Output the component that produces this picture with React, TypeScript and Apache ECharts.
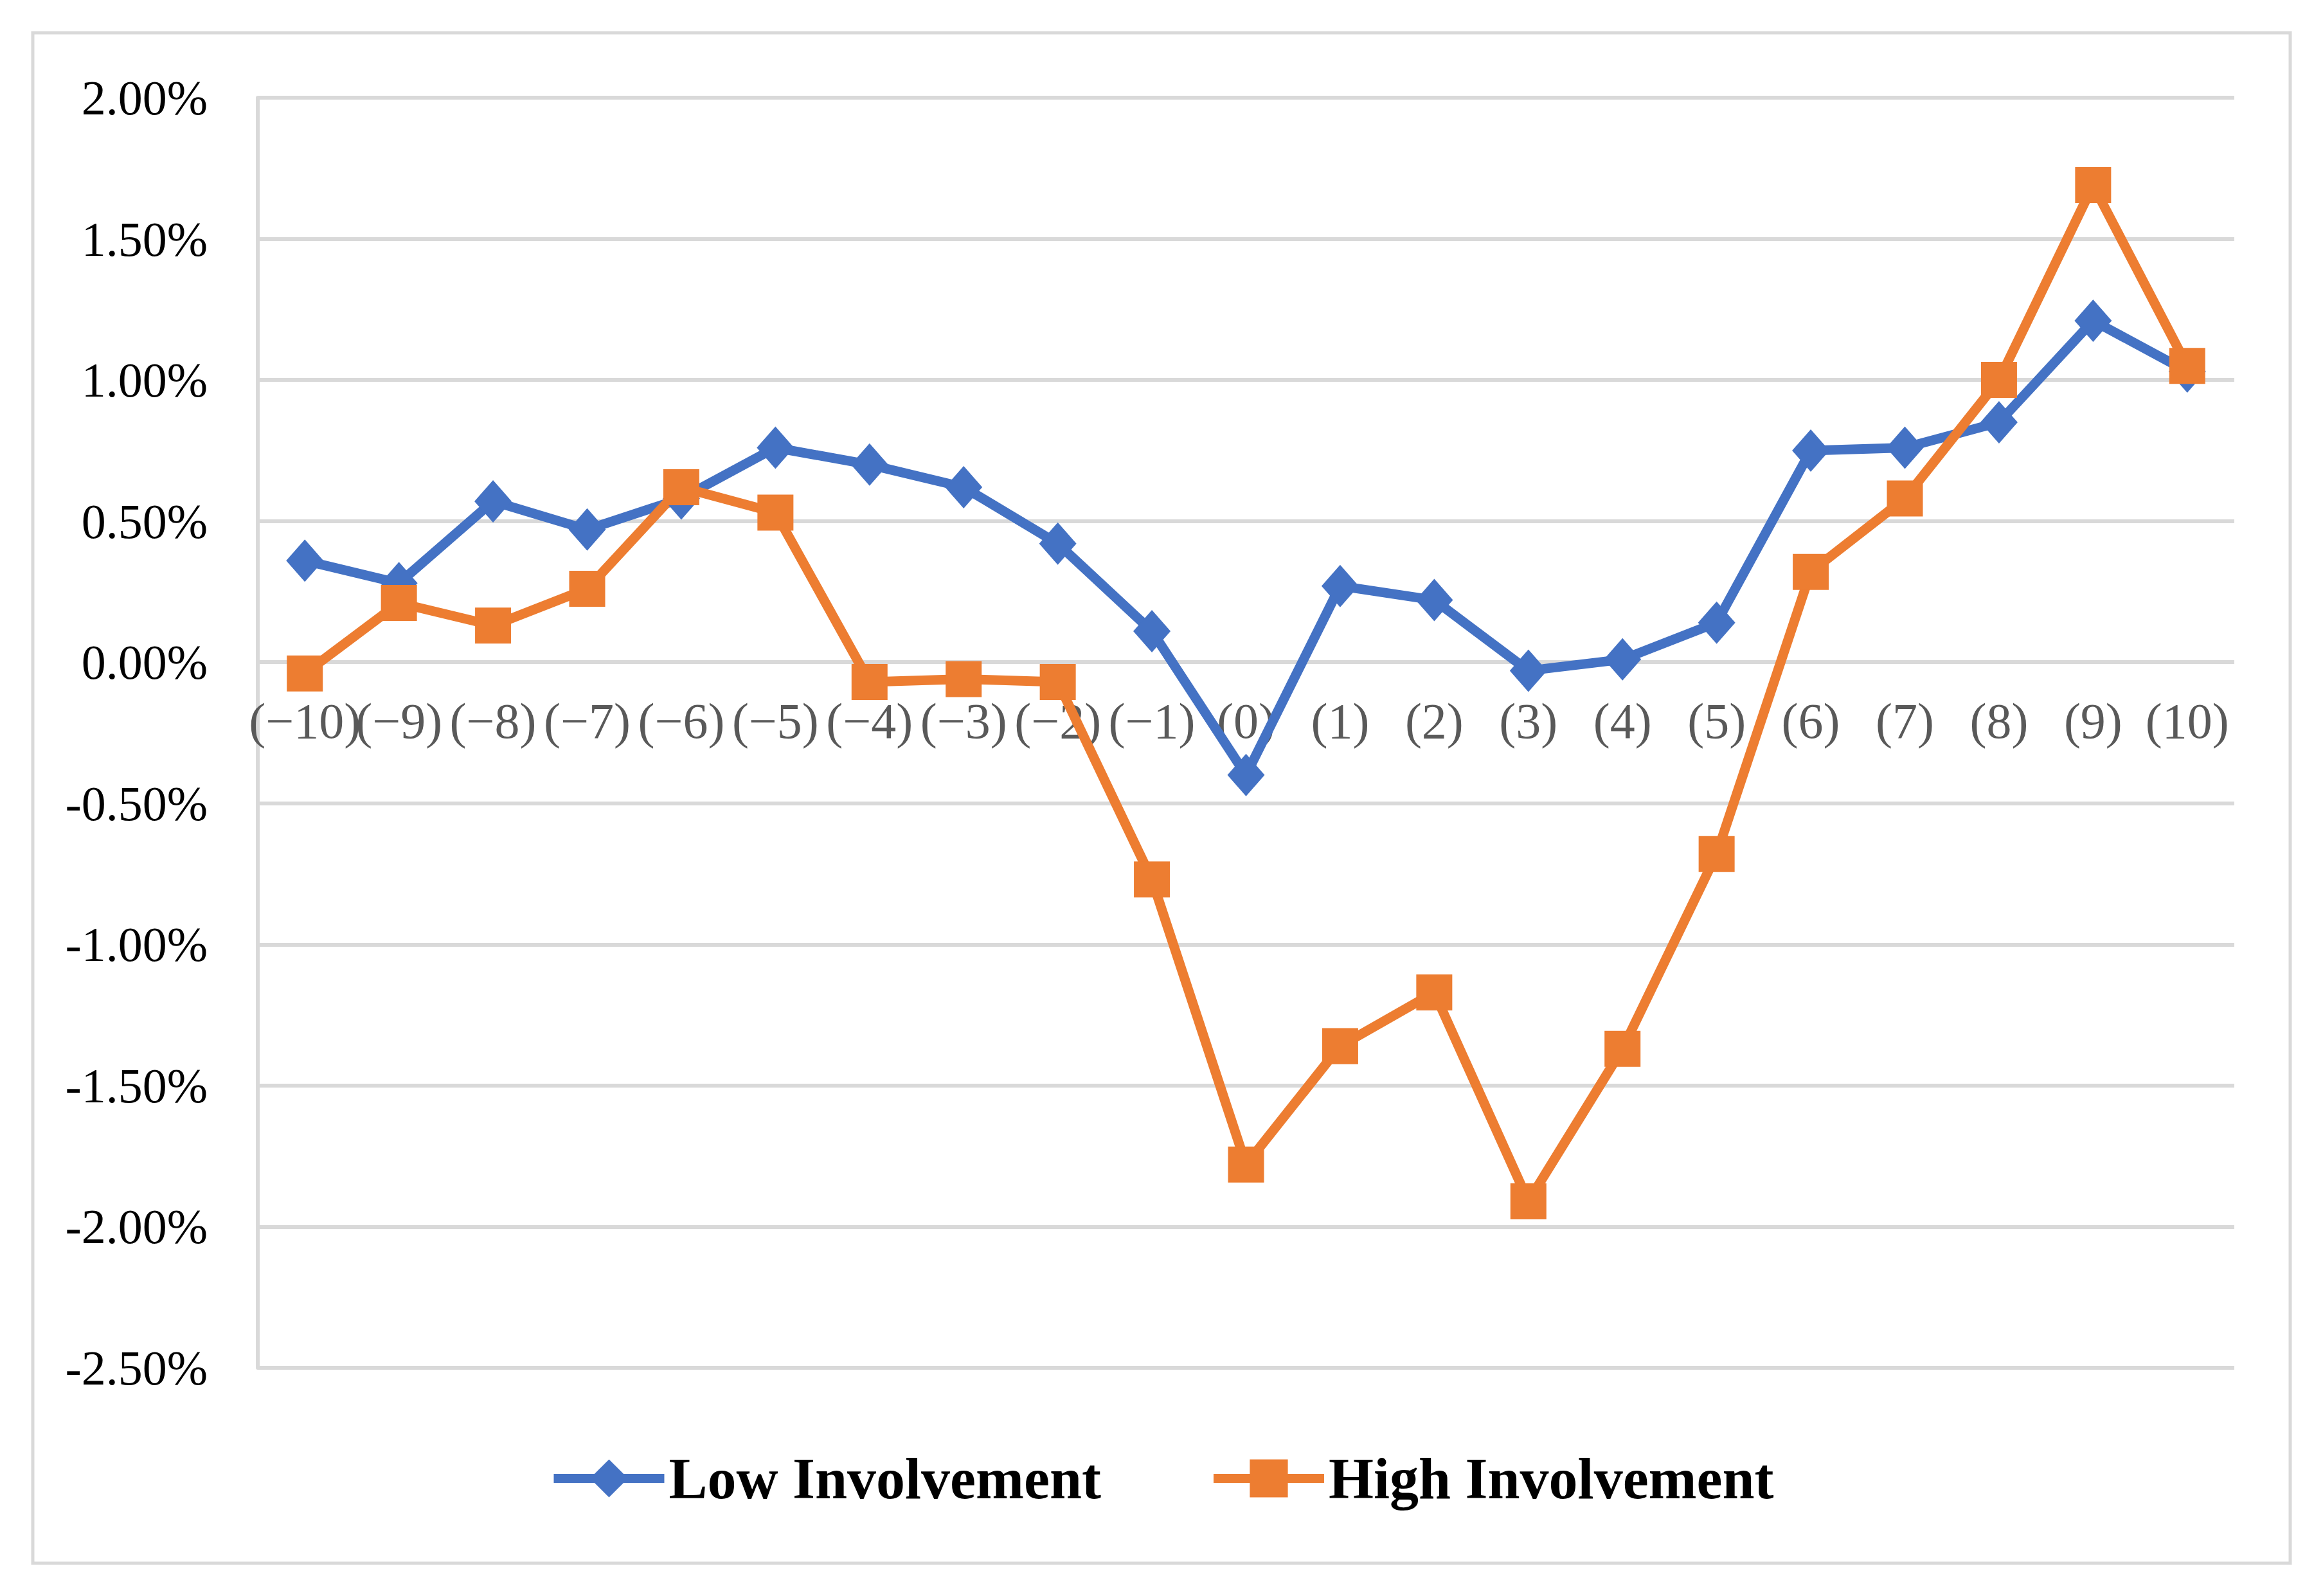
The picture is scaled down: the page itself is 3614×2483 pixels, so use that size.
import React, { useEffect, useRef } from "react";
import * as echarts from "echarts";

const categories = [
  "(−10)", "(−9)", "(−8)", "(−7)", "(−6)", "(−5)", "(−4)", "(−3)", "(−2)", "(−1)",
  "(0)", "(1)", "(2)", "(3)", "(4)", "(5)", "(6)", "(7)", "(8)", "(9)", "(10)",
];

// values in percent
const lowInvolvement = [
  0.36, 0.28, 0.57, 0.47, 0.58, 0.76, 0.70, 0.62, 0.42, 0.11,
  -0.40, 0.27, 0.22, -0.03, 0.01, 0.14, 0.75, 0.76, 0.85, 1.21, 1.03,
];
const highInvolvement = [
  -0.04, 0.21, 0.13, 0.26, 0.62, 0.53, -0.07, -0.06, -0.07, -0.77,
  -1.78, -1.36, -1.17, -1.91, -1.37, -0.68, 0.32, 0.58, 1.00, 1.69, 1.05,
];

const seriesNames = ["Low Involvement", "High Involvement"];
const seriesColors = ["#4472C4", "#ED7D31"];
const yTicks = { min: -2.5, max: 2.0, interval: 0.5 };

export default function App() {
  const ref = useRef<HTMLDivElement>(null);
  useEffect(() => {
    if (!ref.current) return;
    const chart = echarts.init(ref.current, null, { renderer: "svg" });
    const grid = "#D9D9D9";
    const gridTop = 152;
    const gridBottom = 2128;
    // pixel offset so that the category axis sits on the zero line
    const zeroY =
      gridTop + ((yTicks.max - 0) / (yTicks.max - yTicks.min)) * (gridBottom - gridTop);
    chart.setOption({
      animation: false,
      backgroundColor: "#ffffff",
      graphic: [
        {
          type: "rect",
          shape: { x: 51, y: 51, width: 3512, height: 2381 },
          style: { fill: "none", stroke: grid, lineWidth: 5 },
          silent: true,
        },
      ],
      grid: { left: 401, right: 138, top: gridTop, bottom: 2483 - gridBottom, containLabel: false },
      legend: {
        data: seriesNames.map((n, i) => ({
          name: n,
          lineStyle: { width: 14, color: seriesColors[i] },
        })),
        left: "center",
        top: 2250,
        itemWidth: 172,
        itemHeight: 74,
        itemGap: 168,
        textStyle: {
          fontFamily: "Liberation Serif",
          fontWeight: "bold",
          fontSize: 90,
          color: "#000000",
          padding: [0, 0, 0, 2],
        },
      },
      xAxis: {
        type: "category",
        data: categories,
        boundaryGap: true,
        offset: -(gridBottom - zeroY),
        axisLine: { show: false, onZero: false },
        axisTick: { show: false },
        axisLabel: {
          interval: 0,
          margin: 52,
          fontFamily: "Liberation Serif",
          fontSize: 78,
          color: "#595959",
        },
        splitLine: { show: false },
      },
      yAxis: {
        type: "value",
        min: yTicks.min,
        max: yTicks.max,
        interval: yTicks.interval,
        axisLine: { show: true, lineStyle: { color: grid, width: 6 } },
        axisTick: { show: false },
        axisLabel: {
          margin: 78,
          fontFamily: "Liberation Serif",
          fontSize: 76,
          color: "#000000",
          formatter: (v: number) => v.toFixed(2) + "%",
        },
        splitLine: { show: true, lineStyle: { color: grid, width: 6 } },
      },
      series: [
        {
          name: seriesNames[0],
          type: "line",
          data: lowInvolvement,
          color: seriesColors[0],
          lineStyle: { width: 15, color: seriesColors[0] },
          itemStyle: { color: seriesColors[0] },
          symbol: "diamond",
          symbolSize: [58, 66],
          showAllSymbol: true,
        },
        {
          name: seriesNames[1],
          type: "line",
          data: highInvolvement,
          color: seriesColors[1],
          lineStyle: { width: 15, color: seriesColors[1] },
          itemStyle: { color: seriesColors[1] },
          symbol: "rect",
          symbolSize: 56,
          showAllSymbol: true,
        },
      ],
    });
    return () => chart.dispose();
  }, []);
  return (
    <div
      ref={ref}
      style={{ position: "absolute", left: 0, top: 0, width: 3614, height: 2483 }}
    />
  );
}
